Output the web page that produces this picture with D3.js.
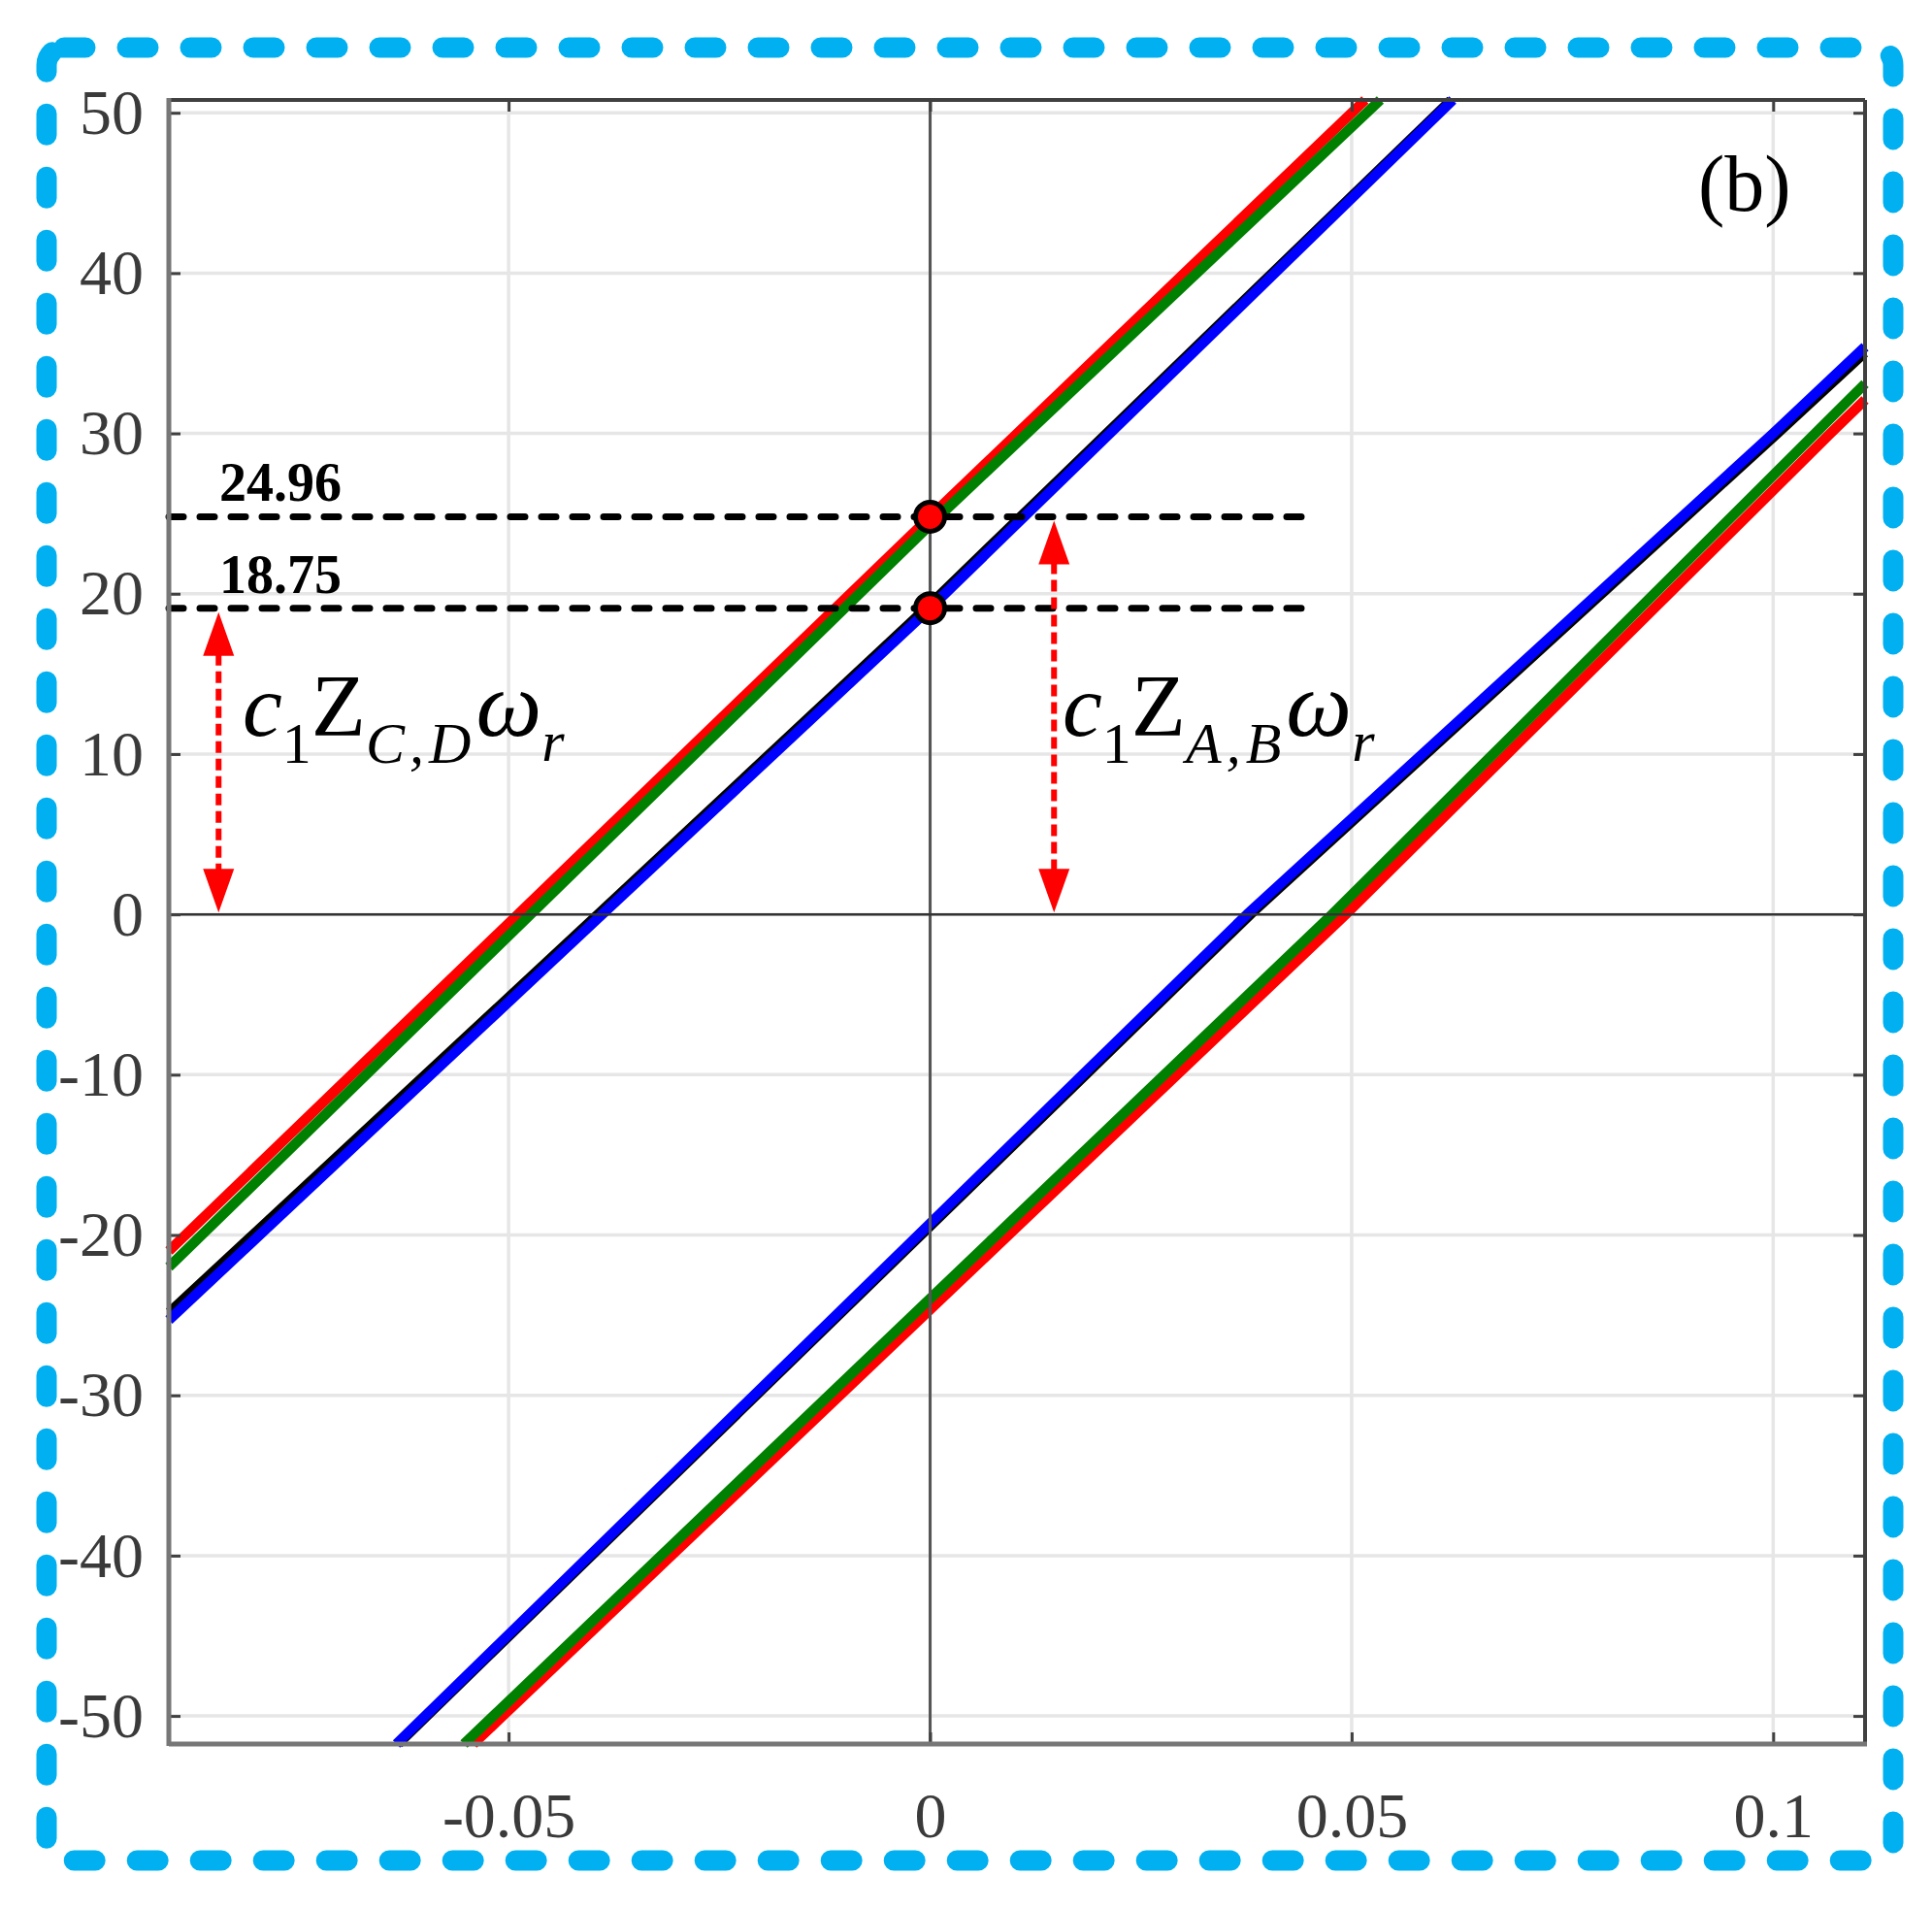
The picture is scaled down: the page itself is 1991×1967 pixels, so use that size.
<!DOCTYPE html>
<html>
<head>
<meta charset="utf-8">
<script src="https://cdn.jsdelivr.net/npm/d3@7"></script>
<style>
  html, body { margin: 0; padding: 0; background: #fff; }
  svg { display: block; }
</style>
</head>
<body>
<div id="chart"></div>
<script>
// tick values
var xTicks = [-0.05, 0, 0.05, 0.1];
var yTicks = [-50, -40, -30, -20, -10, 0, 10, 20, 30, 40, 50];
var xTickLabels = ["-0.05", "0", "0.05", "0.1"];

// curves as [x, y]
var upperRed   = [[-0.0903, -21.0], [-0.0489, 0], [0, 24.8], [0.0516, 50.8]];
var upperGreen = [[-0.0903, -22.0], [-0.0474, 0], [0, 24.3], [0.0534, 50.8]];
var upperBlack = [[-0.0903, -24.8], [-0.0395, 0], [0, 19.4], [0.0617, 50.8]];
var upperBlue  = [[-0.0903, -25.3], [-0.0389, 0], [0, 19.1], [0.0620, 50.8]];
var lowerRed   = [[-0.0542, -51.75], [0.0493, 0], [0.1068, 30], [0.1109, 32.1]];
var lowerGreen = [[-0.0553, -51.75], [0.0477, 0], [0.1050, 30], [0.1109, 33.1]];
var lowerBlack = [[-0.0630, -51.75], [0.0381, 0], [0.1006, 30], [0.1109, 35.0]];
var lowerBlue  = [[-0.0633, -51.75], [0.0376, 0], [0.1000, 30], [0.1109, 35.4]];

// horizontal levels with their markers
var levelLabels = ["24.96", "18.75"];
var levelValues = [24.8, 19.1];
var levelEndX = 0.0453;

// double arrows: x position and the level they reach
var arrowX = [-0.0844, 0.0147];
var arrowTop = [19.1, 24.8];

var W = 1991, H = 1967;
var plot = { left: 174, right: 1922, top: 103, bottom: 1797 };

var x = d3.scaleLinear().domain([-0.0903, 0.1109]).range([plot.left, plot.right]);
var y = d3.scaleLinear().domain([-51.75, 50.8]).range([plot.bottom, plot.top]);

var svg = d3.select("#chart").append("svg")
  .attr("width", W)
  .attr("height", H);

svg.append("rect").attr("width", W).attr("height", H).attr("fill", "#fff");

// grid
var grid = svg.append("g");
grid.selectAll("line.gx").data(xTicks).enter().append("line")
  .attr("x1", d => x(d)).attr("x2", d => x(d))
  .attr("y1", plot.top).attr("y2", plot.bottom)
  .attr("stroke", "#e6e6e6").attr("stroke-width", 3.5);
grid.selectAll("line.gy").data(yTicks).enter().append("line")
  .attr("y1", d => y(d)).attr("y2", d => y(d))
  .attr("x1", plot.left).attr("x2", plot.right)
  .attr("stroke", "#e6e6e6").attr("stroke-width", 3.5);

// curves
var line = d3.line().x(d => x(d[0])).y(d => y(d[1]));
var curves = [
  { data: upperRed, color: "#ff0000", w: 10.5 },
  { data: upperGreen, color: "#008000", w: 10.5 },
  { data: upperBlack, color: "#000000", w: 9 },
  { data: upperBlue, color: "#0000ff", w: 10.5 },
  { data: lowerRed, color: "#ff0000", w: 10.5 },
  { data: lowerGreen, color: "#008000", w: 10.5 },
  { data: lowerBlack, color: "#000000", w: 9 },
  { data: lowerBlue, color: "#0000ff", w: 10.5 }
];
svg.append("g").selectAll("path").data(curves).enter().append("path")
  .attr("d", d => line(d.data))
  .attr("fill", "none")
  .attr("stroke", d => d.color)
  .attr("stroke-width", d => d.w)
  .attr("stroke-linejoin", "round");

// zero lines
svg.append("line")
  .attr("x1", x(0)).attr("x2", x(0)).attr("y1", plot.top).attr("y2", plot.bottom)
  .attr("stroke", "#555").attr("stroke-width", 3);
svg.append("line")
  .attr("x1", plot.left).attr("x2", plot.right).attr("y1", y(0)).attr("y2", y(0))
  .attr("stroke", "#333").attr("stroke-width", 2.5);

// dashed levels
svg.append("g").selectAll("line").data(levelValues).enter().append("line")
  .attr("x1", plot.left).attr("x2", x(levelEndX))
  .attr("y1", d => y(d)).attr("y2", d => y(d))
  .attr("stroke", "#000").attr("stroke-width", 7)
  .attr("stroke-dasharray", "15,17")
  .attr("stroke-linecap", "round");

svg.append("g").selectAll("text").data(levelLabels).enter().append("text")
  .attr("x", 226)
  .attr("y", (d, i) => y(levelValues[i]) - 16)
  .attr("font-family", "'Liberation Serif', 'Times New Roman', serif")
  .attr("font-weight", "bold")
  .attr("font-size", 56)
  .attr("fill", "#000")
  .text(d => d);

// markers
svg.append("g").selectAll("circle").data(levelValues).enter().append("circle")
  .attr("cx", x(0)).attr("cy", d => y(d)).attr("r", 15)
  .attr("fill", "#ff0000").attr("stroke", "#000").attr("stroke-width", 5);

// red double arrows
var headLen = 45, headHalf = 16;
var arrows = svg.append("g");
arrowX.forEach(function (ax, i) {
  var px = x(ax), yTop = y(arrowTop[i]) + 4, yBot = y(0) - 2;
  arrows.append("line")
    .attr("x1", px).attr("x2", px)
    .attr("y1", yTop + headLen - 2).attr("y2", yBot - headLen + 2)
    .attr("stroke", "#ff0000").attr("stroke-width", 6)
    .attr("stroke-dasharray", "12,6");
  arrows.append("path")
    .attr("d", "M" + px + "," + yTop + "L" + (px - headHalf) + "," + (yTop + headLen) +
      "L" + (px + headHalf) + "," + (yTop + headLen) + "Z")
    .attr("fill", "#ff0000");
  arrows.append("path")
    .attr("d", "M" + px + "," + yBot + "L" + (px - headHalf) + "," + (yBot - headLen) +
      "L" + (px + headHalf) + "," + (yBot - headLen) + "Z")
    .attr("fill", "#ff0000");
});

// math labels
function mathLabel(px, base, sub) {
  var t = svg.append("text")
    .attr("x", px).attr("y", base)
    .attr("font-family", "'Liberation Serif', 'Times New Roman', serif")
    .attr("fill", "#000");
  t.append("tspan").attr("font-style", "italic").attr("font-size", 92).text("c");
  t.append("tspan").attr("font-size", 60).attr("dy", 28).text("1");
  t.append("tspan").attr("font-size", 92).attr("dy", -28).text("Z");
  t.append("tspan").attr("font-style", "italic").attr("font-size", 60).attr("dy", 28)
    .attr("letter-spacing", 5).text(sub);
  t.append("tspan").attr("font-style", "italic").attr("font-size", 96).attr("dy", -28).text("ω");
  t.append("tspan").attr("font-style", "italic").attr("font-size", 60).attr("dy", 26).text("r");
}
mathLabel(250, 758, "C,D");
mathLabel(1095, 758, "A,B");

// panel tag
svg.append("text")
  .attr("x", 1750).attr("y", 217)
  .attr("font-family", "'Liberation Serif', 'Times New Roman', serif")
  .attr("font-size", 82)
  .attr("fill", "#000")
  .text("(b)");

// axes
var tickFont = "'Liberation Serif', 'Times New Roman', serif";
var gx = svg.append("g")
  .attr("transform", "translate(0," + plot.bottom + ")")
  .call(d3.axisBottom(x).tickValues(xTicks).tickSize(-12).tickPadding(49)
    .tickFormat((d, i) => xTickLabels[i]));
var gy = svg.append("g")
  .attr("transform", "translate(" + plot.left + ",0)")
  .call(d3.axisLeft(y).tickValues(yTicks).tickSize(-12).tickPadding(26)
    .tickFormat(d => String(d)));
var gxTop = svg.append("g")
  .attr("transform", "translate(0," + plot.top + ")")
  .call(d3.axisTop(x).tickValues(xTicks).tickSize(-12).tickFormat(""));
var gyRight = svg.append("g")
  .attr("transform", "translate(" + plot.right + ",0)")
  .call(d3.axisRight(y).tickValues(yTicks).tickSize(-12).tickFormat(""));

[gx, gy, gxTop, gyRight].forEach(function (g) {
  g.select(".domain").remove();
  g.selectAll(".tick line").attr("stroke", "#404040").attr("stroke-width", 3);
  g.selectAll(".tick text")
    .attr("font-family", tickFont)
    .attr("font-size", 66)
    .attr("fill", "#3a3a3a");
});

// box
svg.append("line").attr("x1", plot.left).attr("x2", plot.right).attr("y1", plot.top).attr("y2", plot.top)
  .attr("stroke", "#404040").attr("stroke-width", 4);
svg.append("line").attr("x1", plot.right).attr("x2", plot.right).attr("y1", plot.top).attr("y2", plot.bottom)
  .attr("stroke", "#404040").attr("stroke-width", 4);
svg.append("line").attr("x1", plot.left).attr("x2", plot.left).attr("y1", plot.top - 2).attr("y2", plot.bottom + 2)
  .attr("stroke", "#777").attr("stroke-width", 5);
svg.append("line").attr("x1", plot.left).attr("x2", plot.right + 2).attr("y1", plot.bottom).attr("y2", plot.bottom)
  .attr("stroke", "#777").attr("stroke-width", 5);

// outer blue dashed frame
svg.append("rect")
  .attr("x", 48).attr("y", 49)
  .attr("width", 1903).attr("height", 1868)
  .attr("rx", 18).attr("ry", 18)
  .attr("fill", "none")
  .attr("stroke", "#00b0f0")
  .attr("stroke-width", 21)
  .attr("stroke-dasharray", "22,43")
  .attr("stroke-linecap", "round");
</script>
</body>
</html>
